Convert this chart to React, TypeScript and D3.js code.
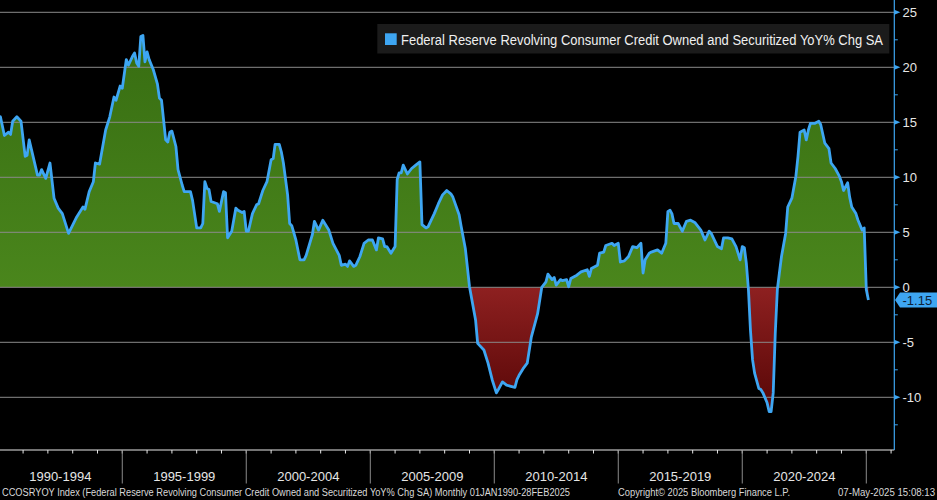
import React, { useEffect } from 'react';
import * as d3 from 'd3';

// Monthly YoY % change (key months)
const dates: string[] = [
  '1990-01','1990-02','1990-04','1990-06','1990-07','1990-08','1990-10','1990-12',
  '1991-02','1991-03','1991-04','1991-08','1991-09','1991-10','1991-12',
  '1992-02','1992-04','1992-06','1992-08','1992-11',
  '1993-03','1993-06','1993-07','1993-09','1993-11','1993-12',
  '1994-02','1994-05','1994-07','1994-09','1994-10','1994-12',
  '1995-01','1995-03','1995-04','1995-06','1995-07','1995-08','1995-09','1995-10','1995-11','1995-12',
  '1996-01','1996-02','1996-04','1996-06','1996-07','1996-08','1996-10','1996-11','1996-12',
  '1997-01','1997-03','1997-04','1997-06','1997-07','1997-10','1997-11',
  '1998-01','1998-03','1998-04','1998-05','1998-06','1998-07','1998-08','1998-11','1998-12',
  '1999-02','1999-03','1999-04','1999-06','1999-08','1999-09','1999-11','1999-12',
  '2000-01','2000-02','2000-04','2000-06','2000-07','2000-09','2000-11',
  '2001-01','2001-02','2001-03','2001-05','2001-06','2001-07','2001-09','2001-10','2001-11',
  '2002-01','2002-03','2002-05','2002-06','2002-09','2002-10','2002-12',
  '2003-02','2003-05','2003-07','2003-10','2003-11',
  '2004-01','2004-02','2004-03','2004-05','2004-06','2004-08','2004-10','2004-12',
  '2005-02','2005-04','2005-05','2005-07','2005-08','2005-09','2005-11',
  '2006-01','2006-02','2006-03','2006-04','2006-05','2006-07','2006-09','2006-11',
  '2007-01','2007-02','2007-04','2007-05','2007-08','2007-10','2007-12',
  '2008-02','2008-04','2008-05','2008-08','2008-09','2008-11',
  '2009-01','2009-04','2009-05','2009-08','2009-10','2009-12',
  '2010-02','2010-03','2010-05','2010-07','2010-09','2010-11','2010-12',
  '2011-01','2011-03','2011-05','2011-07','2011-10','2011-12',
  '2012-02','2012-03','2012-05','2012-06','2012-07','2012-09','2012-10','2012-12',
  '2013-01','2013-02','2013-05','2013-07','2013-10','2013-11','2013-12',
  '2014-03','2014-04','2014-06','2014-07','2014-10','2014-11',
  '2015-01','2015-02','2015-04','2015-06','2015-08','2015-10','2015-12',
  '2016-01','2016-02','2016-04','2016-05','2016-08','2016-10','2016-12',
  '2017-01','2017-02','2017-03','2017-04','2017-06','2017-08','2017-10','2017-12',
  '2018-02','2018-05','2018-07','2018-09','2018-10',
  '2019-01','2019-03','2019-04','2019-06','2019-08','2019-10','2019-12',
  '2020-01','2020-02','2020-03','2020-04','2020-05','2020-06','2020-07','2020-09','2020-10','2020-11',
  '2021-01','2021-02','2021-03','2021-04','2021-05','2021-06','2021-07','2021-08','2021-10','2021-11',
  '2022-01','2022-03','2022-04','2022-05','2022-07','2022-08','2022-09','2022-10','2022-12',
  '2023-02','2023-03','2023-05','2023-07','2023-08','2023-10','2023-12',
  '2024-01','2024-02','2024-04','2024-05','2024-06','2024-08','2024-09','2024-11','2024-12',
  '2025-01','2025-02',
];

const values: number[] = [
  15.4, 15.5, 13.8, 14.1, 13.9, 15.1, 15.5, 15.1,
  11.9, 12.0, 13.4, 10.2, 10.2, 10.7, 9.9,
  11.3, 8.1, 7.2, 6.7, 4.9,
  6.4, 7.3, 7.1, 8.7, 9.6, 11.3,
  11.2, 14.3, 15.5, 17.3, 17.0, 18.3,
  18.1, 20.7, 20.2, 21.0, 21.3, 20.4, 20.1, 22.8, 22.9, 20.5,
  21.4, 20.7, 19.8, 18.5, 17.2, 17.0, 13.4, 13.2, 14.1,
  14.2, 12.8, 10.7, 9.3, 8.7, 8.7, 7.9,
  5.4, 5.4, 5.8, 9.6, 9.0, 8.9, 7.8, 7.6, 6.9,
  8.7, 8.6, 4.5, 5.1, 7.2, 7.0, 6.8, 6.9,
  5.1, 5.1, 6.7, 7.5, 7.6, 8.8, 9.6,
  11.6, 11.7, 13.0, 13.0, 12.3, 11.3, 8.4, 5.8, 5.6,
  4.3, 2.5, 2.5, 2.9, 4.8, 6.0, 5.2,
  6.1, 5.2, 4.0, 2.9, 2.0,
  2.1, 1.9, 2.4, 1.9, 2.0, 2.8, 4.0, 4.3,
  4.3, 3.4, 4.5, 4.4, 3.7, 3.7, 3.1,
  3.7, 9.8, 10.4, 10.4, 11.1, 10.3, 10.8, 11.1,
  11.4, 5.7, 5.4, 5.5, 6.7, 7.6, 8.4,
  8.8, 8.5, 8.2, 6.6, 5.5, 3.5,
  0.05, -3.0, -5.1, -5.7, -6.9, -8.4,
  -9.6, -9.3, -8.6, -8.9, -9.0, -9.1, -8.4,
  -8.0, -7.4, -6.9, -4.5, -2.4, 0.0,
  0.5, 1.2, 0.7, 0.9, 0.2, 0.7, 0.6, 0.7,
  0.05, 0.8, 1.1, 1.4, 1.6, 1.0, 1.7,
  2.0, 3.1, 3.2, 3.8, 4.0, 3.8,
  4.0, 2.3, 2.4, 2.8, 3.7, 3.6, 4.0,
  1.3, 2.5, 3.1, 3.2, 3.4, 3.1, 4.0,
  6.9, 7.0, 6.7, 5.8, 5.8, 5.1, 6.0, 6.1,
  5.9, 5.2, 4.3, 5.1, 4.9,
  3.7, 3.5, 4.5, 4.5, 4.4, 3.7, 2.5,
  3.7, 3.6, 2.2, -0.2, -3.9, -6.6, -7.8, -9.2, -9.3, -9.6,
  -10.5, -11.3, -11.3, -9.6, -4.2, -0.2, 1.3, 2.8, 4.9, 7.3,
  8.1, 10.1, 11.9, 14.1, 14.3, 13.4, 14.3, 14.9, 14.9,
  15.1, 14.8, 13.1, 12.6, 11.3, 10.8, 10.1,
  9.6, 8.8, 9.5, 8.2, 7.3, 6.7, 6.1, 5.2, 5.4,
  -0.2, -1.15,
];

const yMajorTicks: number[] = [-10, -5, 0, 5, 10, 15, 20, 25];
const yMinorTicks: number[] = [-12.5, -7.5, -2.5, 2.5, 7.5, 12.5, 17.5, 22.5];
const periodLabels: string[] = ['1990-1994', '1995-1999', '2000-2004', '2005-2009', '2010-2014', '2015-2019', '2020-2024'];
const periodStartYears: number[] = [1990, 1995, 2000, 2005, 2010, 2015, 2020, 2025];
const legendText = 'Federal Reserve Revolving Consumer Credit Owned and Securitized YoY% Chg SA';
const lastValueLabel = '-1.15';
const footerLeft = 'CCOSRYOY Index (Federal Reserve Revolving Consumer Credit Owned and Securitized YoY% Chg SA)  Monthly 01JAN1990-28FEB2025';
const footerMid = 'Copyright\u00A9 2025 Bloomberg Finance L.P.';
const footerRight = '07-May-2025 15:08:13';

const W = 937;
const H = 500;
const AXIS_X = 894.3;
const AXIS_Y = 450;
const FONT = "'Liberation Sans', Arial, sans-serif";
const LINE_BLUE = '#3ea6f2';

type Pt = { date: Date; v: number };

export default function App() {
  useEffect(() => {
    document.body.style.margin = '0';
    document.body.style.background = '#000';
  }, []);

  const parse = d3.timeParse('%Y-%m');
  const data: Pt[] = dates.map((d, i) => ({ date: parse(d) as Date, v: values[i] }));

  const x = d3.scaleTime()
    .domain([new Date(1990, 0, 1), new Date(2025, 0, 1)])
    .range([-1.7, 866.3]);
  const y = d3.scaleLinear().domain([0, 25]).range([287.3, 12.3]);

  const line = d3.line<Pt>().x(d => x(d.date)).y(d => y(d.v));
  const area = d3.area<Pt>().x(d => x(d.date)).y0(y(0)).y1(d => y(d.v));

  const years = d3.timeYear.range(new Date(1991, 0, 1), new Date(2027, 0, 1));
  const last = data[data.length - 1];
  const tagY = y(last.v);

  return (
    <svg width={W} height={H} style={{ display: 'block', background: '#000' }} fontFamily={FONT}>
      <defs>
        <linearGradient id="gGreen" gradientUnits="userSpaceOnUse" x1="0" x2="0" y1={y(23)} y2={y(0)}>
          <stop offset="0" stopColor="#376d12" />
          <stop offset="1" stopColor="#4a861c" />
        </linearGradient>
        <linearGradient id="gRed" gradientUnits="userSpaceOnUse" x1="0" x2="0" y1={y(0)} y2={y(-11.5)}>
          <stop offset="0" stopColor="#8e2020" />
          <stop offset="1" stopColor="#560606" />
        </linearGradient>
        <clipPath id="cAbove"><rect x={0} y={0} width={AXIS_X} height={y(0)} /></clipPath>
        <clipPath id="cBelow"><rect x={0} y={y(0)} width={AXIS_X} height={AXIS_Y - y(0)} /></clipPath>
        <clipPath id="cPlot"><rect x={0} y={0} width={AXIS_X} height={AXIS_Y} /></clipPath>
      </defs>
      <rect x={0} y={0} width={W} height={H} fill="#000" />

      {/* fills */}
      <path d={area(data) || ''} fill="url(#gGreen)" clipPath="url(#cAbove)" />
      <path d={area(data) || ''} fill="url(#gRed)" clipPath="url(#cBelow)" />

      {/* gridlines */}
      {yMajorTicks.map(t => (
        <line key={'g' + t} x1={0} x2={AXIS_X} y1={y(t)} y2={y(t)} stroke="#8a8a8a" strokeWidth={1} />
      ))}

      {/* series line */}
      <path d={line(data) || ''} fill="none" stroke={LINE_BLUE} strokeWidth={2.8} strokeLinejoin="round" clipPath="url(#cPlot)" />

      {/* legend */}
      <rect x={377.3} y={24} width={512} height={29.5} fill="#1b1b1b" />
      <rect x={385} y={33.3} width={11.7} height={11.7} fill={LINE_BLUE} />
      <text x={401} y={45} fontSize={14} fill="#f0f0f0" textLength={482} lengthAdjust="spacingAndGlyphs">{legendText}</text>

      {/* bottom axis */}
      <line x1={0} x2={AXIS_X} y1={AXIS_Y} y2={AXIS_Y} stroke="#e8e8e8" strokeWidth={1} />
      {years.map(d => (
        <line key={'yt' + d.getFullYear()} x1={x(d)} x2={x(d)} y1={AXIS_Y} y2={AXIS_Y + 3.5} stroke="#e8e8e8" strokeWidth={1} />
      ))}
      {periodStartYears.slice(1).map(yr => (
        <line key={'sep' + yr} x1={x(new Date(yr, 0, 1))} x2={x(new Date(yr, 0, 1))} y1={AXIS_Y} y2={483.5} stroke="#8a8a8a" strokeWidth={1} />
      ))}
      {periodLabels.map((lab, i) => {
        const cx = (x(new Date(periodStartYears[i], 0, 1)) + x(new Date(periodStartYears[i + 1], 0, 1))) / 2;
        return (
          <text key={lab} x={cx} y={481} fontSize={13} fill="#e6e6e6" textAnchor="middle">{lab}</text>
        );
      })}

      {/* right axis */}
      <line x1={AXIS_X} x2={AXIS_X} y1={0} y2={AXIS_Y} stroke={LINE_BLUE} strokeWidth={1.2} />
      {yMinorTicks.map(t => (
        <line key={'mt' + t} x1={AXIS_X} x2={AXIS_X + 3.5} y1={y(t)} y2={y(t)} stroke={LINE_BLUE} strokeWidth={1} />
      ))}
      {yMajorTicks.map(t => (
        <g key={'yl' + t}>
          <path d={`M${AXIS_X},${y(t) - 2.5}L${AXIS_X + 6},${y(t)}L${AXIS_X},${y(t) + 2.5}Z`} fill={LINE_BLUE} />
          <text x={902.5} y={y(t) + 4.6} fontSize={13} fill="#e6e6e6">{String(t)}</text>
        </g>
      ))}

      {/* last value tag */}
      <path
        d={`M${AXIS_X + 0.7},${tagY}L${900},${tagY - 7.5}L${W},${tagY - 7.5}L${W},${tagY + 7.5}L${900},${tagY + 7.5}Z`}
        fill={LINE_BLUE}
      />
      <text x={902.5} y={tagY + 4.7} fontSize={13} fill="#0f2238">{lastValueLabel}</text>

      {/* footer */}
      <text x={2} y={495.5} fontSize={10} fill="#d8d8d8" textLength={568} lengthAdjust="spacingAndGlyphs">{footerLeft}</text>
      <text x={618} y={495.5} fontSize={10} fill="#d8d8d8" textLength={172} lengthAdjust="spacingAndGlyphs">{footerMid}</text>
      <text x={838} y={495.5} fontSize={10} fill="#d8d8d8" textLength={97} lengthAdjust="spacingAndGlyphs">{footerRight}</text>
    </svg>
  );
}
